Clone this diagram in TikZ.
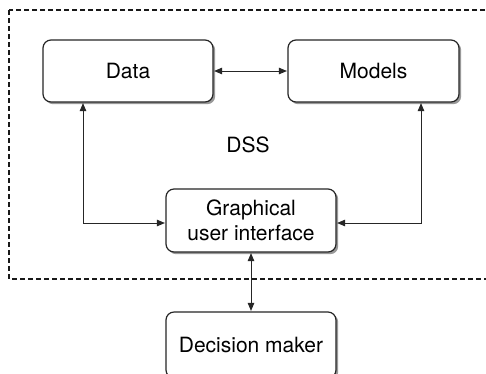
\documentclass[tikz,border=0pt]{standalone}
\usepackage{fontspec}
\setmainfont{TeX Gyre Heros}
\usetikzlibrary{shadows,arrows.meta}
\begin{document}
\begin{tikzpicture}[x=1pt,y=-1pt,
  box/.style={draw=black!85, line width=1.2pt, rounded corners=8pt, fill=white,
    minimum width=170pt, minimum height=62pt, align=center,
    font=\fontsize{21}{25}\selectfont,
    drop shadow={shadow xshift=2.2pt, shadow yshift=-2.2pt, fill=black!40, opacity=1}},
  arr/.style={line width=0.9pt, draw=black!85, {Triangle[length=8pt,width=6.5pt]}-{Triangle[length=8pt,width=6.5pt]}, shorten <=0.5pt, shorten >=0.5pt},
  lbl/.style={font=\fontsize{21}{25}\selectfont}]
\clip (0,0) rectangle (486,373);
\fill[white] (0,0) rectangle (486,373);
\draw[line width=1.5pt, dash pattern=on 5pt off 3pt, black!90] (9,10) rectangle (510,279);
\node[box] (data) at (128,71) {Data};
\node[box, minimum width=171pt] (models) at (373.5,71) {Models};
\node[box, minimum height=63pt] (gui) at (251,220.5) {Graphical\\user interface};
\node[box, minimum height=66pt] (dm) at (251,345) {Decision maker};
\node[lbl] (dss) at (248,145) {DSS};
\coordinate (L) at (83,223);
\coordinate (R) at (421,223);
\draw[arr] (data.east) -- (models.west);
\draw[arr] (data.south -| L) -- (L) -- (gui.west |- L);
\draw[arr] (models.south -| R) -- (R) -- (gui.east |- R);
\draw[arr] (gui.south) -- (dm.north);
\end{tikzpicture}
\end{document}
